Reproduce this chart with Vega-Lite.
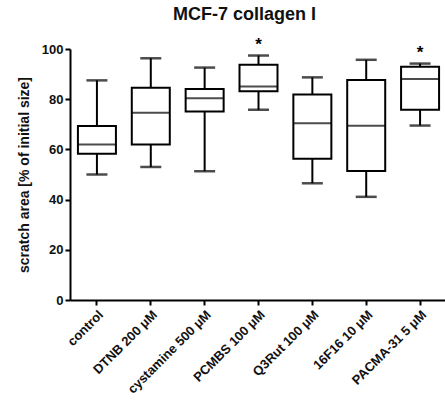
{
  "$schema": "https://vega.github.io/schema/vega-lite/v6.json",
  "autosize": {"type": "none"},
  "padding": {"left": 70, "top": 49, "right": 0, "bottom": 109},
  "width": 377,
  "height": 251,
  "background": "white",
  "title": {"text": "MCF-7 collagen I", "font": "Liberation Sans", "fontSize": 18, "fontWeight": "bold", "color": "#111", "anchor": "middle", "dx": -14, "offset": 12},
  "data": {"values": [
    {"group": "control", "min": 50, "q1": 58.3, "median": 62, "q3": 69.3, "max": 87.5, "star": ""},
    {"group": "DTNB 200 μM", "min": 53, "q1": 62, "median": 74.6, "q3": 84.6, "max": 96.3, "star": ""},
    {"group": "cystamine 500 μM", "min": 51.3, "q1": 75.1, "median": 80.4, "q3": 84.1, "max": 92.6, "star": ""},
    {"group": "PCMBS 100 μM", "min": 75.8, "q1": 83.2, "median": 85.1, "q3": 93.7, "max": 97.4, "star": "*"},
    {"group": "Q3Rut 100 μM", "min": 46.5, "q1": 56.3, "median": 70.4, "q3": 81.9, "max": 88.7, "star": ""},
    {"group": "16F16 10 μM", "min": 41.1, "q1": 51.4, "median": 69.4, "q3": 87.6, "max": 95.7, "star": ""},
    {"group": "PACMA-31 5 μM", "min": 69.5, "q1": 75.8, "median": 88, "q3": 92.9, "max": 94.2, "star": "*"}
  ]},
  "encoding": {
    "x": {"field": "group", "type": "nominal", "sort": null,
      "scale": {"paddingInner": 0, "paddingOuter": 0},
      "axis": {"title": null, "labelAngle": -45, "labelAlign": "right", "labelBaseline": "top", "labelPadding": 3}}
  },
  "layer": [
    {"mark": {"type": "rule", "color": "black", "strokeWidth": 2},
     "encoding": {"y": {"field": "min", "type": "quantitative", "scale": {"domain": [0, 100], "nice": false},
        "axis": {"values": [0, 20, 40, 60, 80, 100], "title": "scratch area [% of initial size]", "titleFontSize": 14, "titlePadding": 10}},
       "y2": {"field": "max"}}},
    {"mark": {"type": "bar", "fill": "white", "stroke": "black", "strokeWidth": 2, "width": 38},
     "encoding": {"y": {"field": "q1", "type": "quantitative"}, "y2": {"field": "q3"}}},
    {"mark": {"type": "tick", "color": "black", "size": 38, "thickness": 2},
     "encoding": {"y": {"field": "median", "type": "quantitative"}}},
    {"mark": {"type": "tick", "color": "black", "size": 21, "thickness": 2.5},
     "encoding": {"y": {"field": "min", "type": "quantitative"}}},
    {"mark": {"type": "tick", "color": "black", "size": 21, "thickness": 2.5},
     "encoding": {"y": {"field": "max", "type": "quantitative"}}},
    {"mark": {"type": "text", "font": "Liberation Sans", "fontWeight": "bold", "fontSize": 17, "color": "black", "dy": -11, "baseline": "middle"},
     "encoding": {"y": {"field": "max", "type": "quantitative"}, "text": {"field": "star"}}}
  ],
  "config": {
    "view": {"stroke": null},
    "axis": {"domainColor": "black", "domainWidth": 2, "tickColor": "black", "tickWidth": 2, "tickSize": 5, "grid": false,
      "labelFont": "Liberation Sans", "labelFontWeight": "bold", "labelFontSize": 13, "labelColor": "#111",
      "titleFont": "Liberation Sans", "titleFontWeight": "bold", "titleColor": "#111"}
  }
}
